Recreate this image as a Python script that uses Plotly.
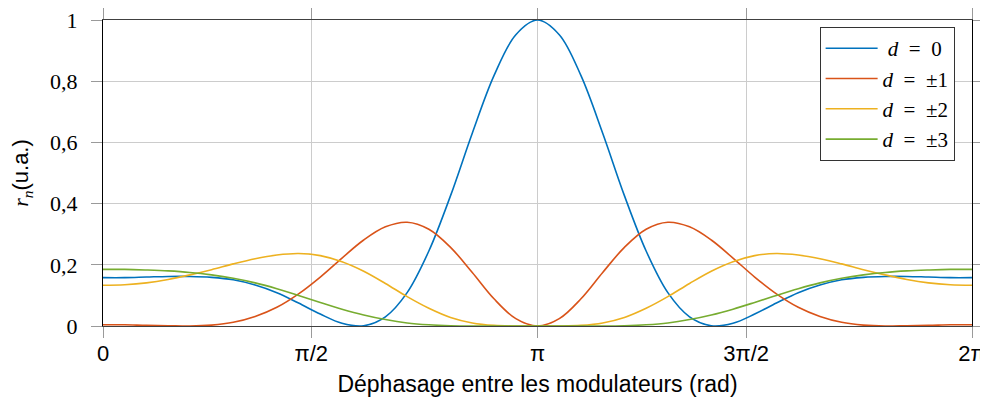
import plotly.graph_objects as go

# Phase difference between the modulators (rad)
phase = [0.000, 0.157, 0.314, 0.471, 0.628, 0.785, 0.942, 1.100, 1.257, 1.414,
         1.571, 1.728, 1.885, 2.042, 2.199, 2.356, 2.513, 2.670, 2.827, 2.985,
         3.142, 3.299, 3.456, 3.613, 3.770, 3.927, 4.084, 4.241, 4.398, 4.555,
         4.712, 4.869, 5.027, 5.184, 5.341, 5.498, 5.655, 5.812, 5.969, 6.126,
         6.283]

r_d0 = [0.158, 0.158, 0.160, 0.162, 0.162, 0.159, 0.151, 0.134, 0.109, 0.075,
        0.039, 0.009, 0.001, 0.030, 0.109, 0.245, 0.426, 0.630, 0.818, 0.952,
        1.000, 0.952, 0.818, 0.630, 0.426, 0.245, 0.109, 0.030, 0.001, 0.009,
        0.039, 0.075, 0.109, 0.134, 0.151, 0.159, 0.162, 0.162, 0.160, 0.158,
        0.158]
r_d1 = [0.004, 0.004, 0.002, 0.001, 0.000, 0.003, 0.012, 0.031, 0.061, 0.105,
        0.160, 0.222, 0.281, 0.324, 0.339, 0.316, 0.257, 0.175, 0.089, 0.024,
        0.000, 0.024, 0.089, 0.175, 0.257, 0.316, 0.339, 0.324, 0.281, 0.222,
        0.160, 0.105, 0.061, 0.031, 0.012, 0.003, 0.000, 0.001, 0.002, 0.004,
        0.004]
r_d2 = [0.133, 0.135, 0.141, 0.152, 0.167, 0.184, 0.203, 0.220, 0.232, 0.237,
        0.230, 0.210, 0.179, 0.139, 0.096, 0.058, 0.028, 0.010, 0.002, 0.000,
        0.000, 0.000, 0.002, 0.010, 0.028, 0.058, 0.096, 0.139, 0.179, 0.210,
        0.230, 0.237, 0.232, 0.220, 0.203, 0.184, 0.167, 0.152, 0.141, 0.135,
        0.133]
r_d3 = [0.185, 0.185, 0.183, 0.180, 0.175, 0.167, 0.156, 0.141, 0.122, 0.100,
        0.077, 0.055, 0.036, 0.021, 0.010, 0.004, 0.001, 0.000, 0.000, 0.000,
        0.000, 0.000, 0.000, 0.000, 0.001, 0.004, 0.010, 0.021, 0.036, 0.055,
        0.077, 0.100, 0.122, 0.141, 0.156, 0.167, 0.175, 0.180, 0.183, 0.185,
        0.185]

EQ = "\u2002=\u2002"
series_names = ["\u00a0<i>d</i>" + EQ + "0",
                "<i>d</i>" + EQ + "\u00b11",
                "<i>d</i>" + EQ + "\u00b12",
                "<i>d</i>" + EQ + "\u00b13"]
series_values = [r_d0, r_d1, r_d2, r_d3]
colors = ["#0072BD", "#D95319", "#EDB120", "#77AC30"]

x_tick_vals = [0, 1.506, 3.1416, 4.650, 6.2832]
x_tick_text = ["0", "\u03c0/2", "\u03c0", "3\u03c0/2", "2\u03c0"]
y_tick_vals = [0, 0.2, 0.4, 0.6, 0.8, 1]
y_tick_text = ["0", "0,2", "0,4", "0,6", "0,8", "1"]

fig = go.Figure()
for i, (name, vals, col) in enumerate(zip(series_names, series_values, colors)):
    fig.add_trace(go.Scatter(
        x=phase, y=vals, mode="lines", name=name,
        line=dict(color=col, width=1.6, shape="spline", smoothing=1.0),
        legendgroup=f"g{i}",
    ))

SERIF = "Liberation Serif, Times New Roman, serif"
SANS = "Liberation Sans, Arial, sans-serif"

# the page body adds an 8 px offset, so the figure is sized to fit the window
fig.update_layout(
    width=980, height=403,
    margin=dict(l=95, r=16, t=12, b=85, autoexpand=False),
    paper_bgcolor="white", plot_bgcolor="white",
    showlegend=True,
    legend=dict(
        x=0.980, y=0.977, xanchor="right", yanchor="top",
        bgcolor="white", bordercolor="#333333", borderwidth=1,
        font=dict(family=SERIF, size=21, color="black"),
        tracegroupgap=0, itemwidth=52,
    ),
    xaxis=dict(
        range=[0, 6.2832], automargin=False,
        tickmode="array", tickvals=x_tick_vals, ticktext=x_tick_text,
        tickfont=dict(family=SANS, size=22, color="black"),
        ticklabelstandoff=-3, ticklabeloverflow="allow",
        showgrid=True, gridcolor="#cccccc", gridwidth=1,
        showline=True, linecolor="#404040", linewidth=1, mirror="ticks",
        ticks="outside", ticklen=11, tickcolor="#9a9a9a", tickwidth=1,
        zeroline=False,
        title=dict(text="Déphasage entre les modulateurs (rad)",
                   font=dict(family=SANS, size=23, color="black"), standoff=10),
    ),
    yaxis=dict(
        range=[0, 1], automargin=False,
        tickmode="array", tickvals=y_tick_vals, ticktext=y_tick_text,
        tickfont=dict(family=SERIF, size=22, color="black"),
        ticklabelstandoff=9, ticklabeloverflow="allow",
        showgrid=True, gridcolor="#cccccc", gridwidth=1,
        showline=True, linecolor="black", linewidth=1, mirror="ticks",
        ticks="outside", ticklen=11, tickcolor="#9a9a9a", tickwidth=1,
        zeroline=False,
        title=dict(text='<span style="font-family:Liberation Serif"><i>r</i><sub><i>n</i></sub></span>(u.a.)',
                   font=dict(family=SANS, size=22, color="black"), standoff=19),
    ),
)

fig.write_html("out.html")
